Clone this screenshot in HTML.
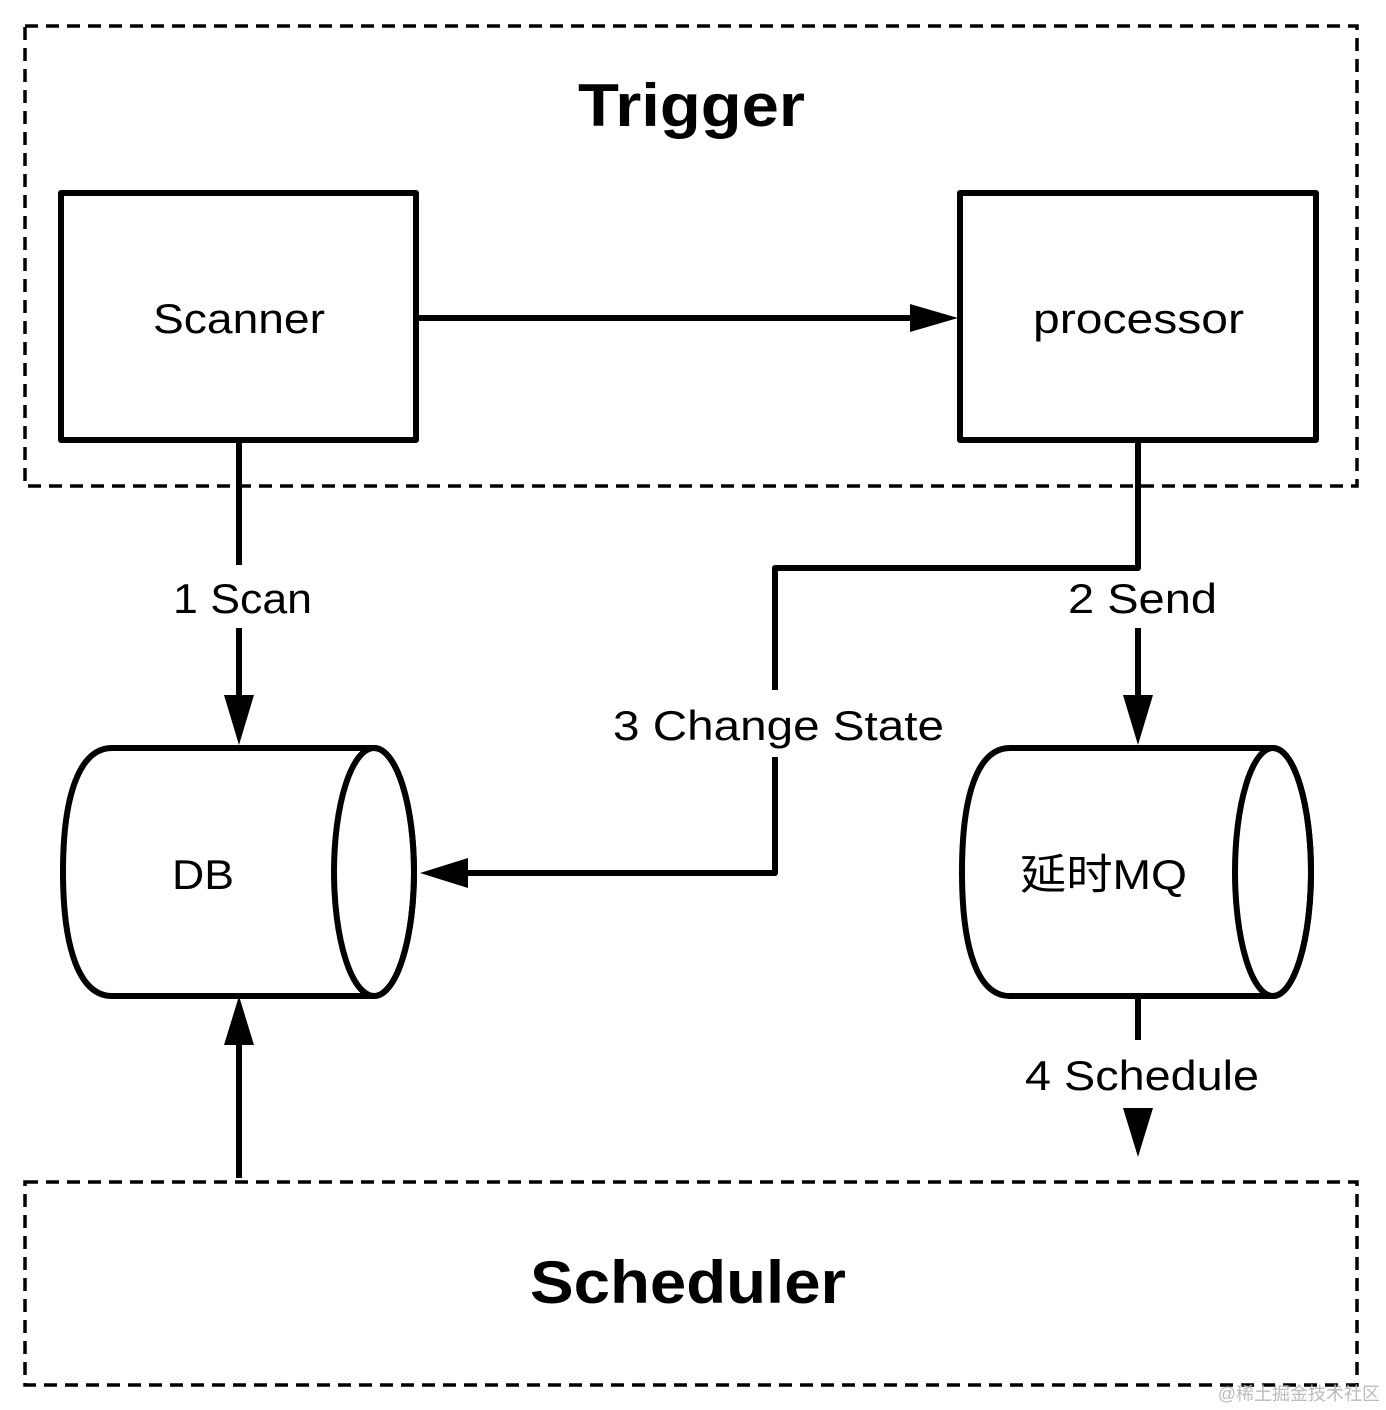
<!DOCTYPE html>
<html><head><meta charset="utf-8"><style>
html,body{margin:0;padding:0;background:#fff;}
svg{display:block;}
text{font-family:"Liberation Sans","Noto Sans CJK SC",sans-serif;fill:#000;}
</style></head><body>
<svg width="1386" height="1410" viewBox="0 0 1386 1410" xmlns="http://www.w3.org/2000/svg">
<rect width="1386" height="1410" fill="#fff"/>
<g fill="none" stroke="#000" stroke-width="3.5" stroke-dasharray="13 8">
<rect x="25" y="26" width="1332" height="460"/>
<rect x="25" y="1182" width="1332" height="203"/>
</g>
<text x="578" y="126" font-size="60" font-weight="bold" textLength="227" lengthAdjust="spacingAndGlyphs">Trigger</text>
<text x="530" y="1303" font-size="60" font-weight="bold" textLength="316" lengthAdjust="spacingAndGlyphs">Scheduler</text>
<g fill="none" stroke="#000" stroke-width="6" stroke-linejoin="round">
<rect x="61" y="193" width="355" height="247"/>
<rect x="960" y="193" width="356" height="247"/>
<path d="M416,318 H912"/>
<path d="M239,440 V565 M239,628 V700"/>
<path d="M1138,440 V568 H775 V690 M775,757 V873 H466"/>
<path d="M1138,628 V700"/>
<path d="M1138,996 V1040"/>
<path d="M239,1178 V1040"/>
<path d="M112,748 H374 A40,124 0 0 1 374,996 H112 C80,996 63,950 63,872 C63,794 80,748 112,748 Z"/>
<ellipse cx="374" cy="872" rx="40" ry="124"/>
<path d="M1010,748 H1273 A38,124 0 0 1 1273,996 H1010 C978,996 962,950 962,872 C962,794 978,748 1010,748 Z"/>
<ellipse cx="1273" cy="872" rx="38" ry="124"/>
</g>
<g fill="#000">
<polygon points="910,304 958,318 910,332"/>
<polygon points="224,695 254,695 239,745"/>
<polygon points="1123,695 1153,695 1138,745"/>
<polygon points="1123,1108 1153,1108 1138,1157"/>
<polygon points="224,1045 254,1045 239,996"/>
<polygon points="468,858 468,888 420,873"/>
</g>
<g font-size="42" lengthAdjust="spacingAndGlyphs">
<text x="153" y="333" textLength="172" lengthAdjust="spacingAndGlyphs">Scanner</text>
<text x="1033" y="333" textLength="211" lengthAdjust="spacingAndGlyphs">processor</text>
<text x="173" y="613" textLength="139" lengthAdjust="spacingAndGlyphs">1 Scan</text>
<text x="1068" y="613" textLength="149" lengthAdjust="spacingAndGlyphs">2 Send</text>
<text x="613" y="740" textLength="331" lengthAdjust="spacingAndGlyphs">3 Change State</text>
<text x="172" y="889" textLength="62" lengthAdjust="spacingAndGlyphs">DB</text>
<text x="1020" y="889" textLength="167" lengthAdjust="spacingAndGlyphs">延时MQ</text>
<text x="1025" y="1090" textLength="234" lengthAdjust="spacingAndGlyphs">4 Schedule</text>
</g>
<text x="1380" y="1400" font-size="18" text-anchor="end" style="fill:#bbb">@稀土掘金技术社区</text>
</svg>
</body></html>
